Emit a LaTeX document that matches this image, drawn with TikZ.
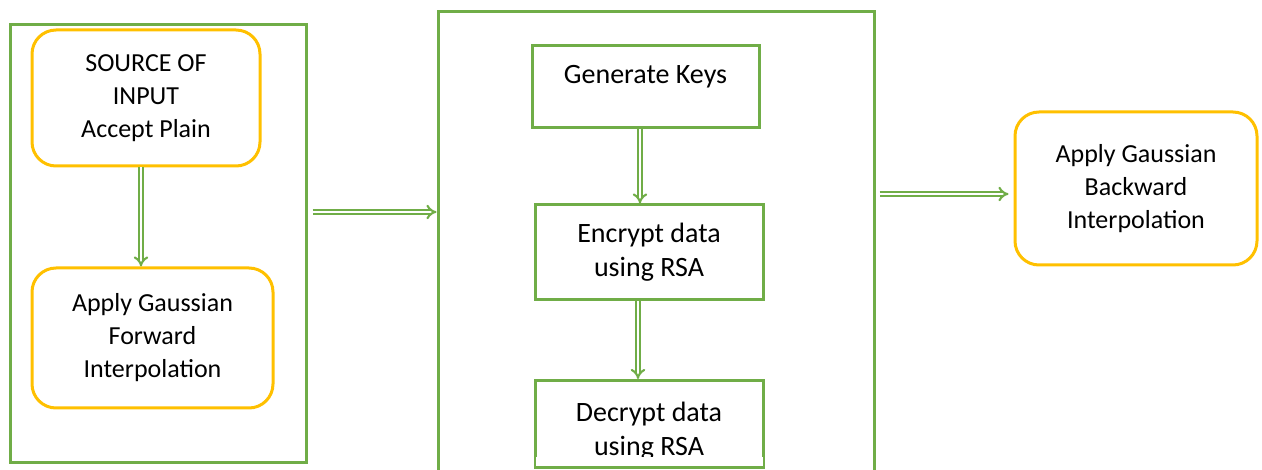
\documentclass[tikz,border=0pt]{standalone}
\usepackage{fontspec}
\setmainfont{Carlito}
\usetikzlibrary{arrows.meta}
\definecolor{boxgreen}{HTML}{70AD47}
\definecolor{boxorange}{HTML}{FFC000}

\begin{document}
\begin{tikzpicture}[x=1pt, y=-1pt, every node/.style={font=\fontsize{26}{33}\selectfont}]
    \tikzstyle{gbox}=[draw=boxgreen, line width=3pt, inner sep=0pt, align=center, font=\fontsize{28}{34}\selectfont]
    \tikzstyle{obox}=[draw=boxorange, line width=3pt, rounded corners=24pt, inner sep=0pt, align=center]
    \tikzstyle{darrs}=[draw=boxgreen, double, double distance=2.6pt, line width=2.1pt, -{Implies[scale=1.1]}]

    \useasboundingbox (0,0) rectangle (1262,470);
    \clip (0,0) rectangle (1262,470);

    % plain text in, forward interpolation
    \begin{scope}
        \node[gbox, minimum width=296pt, minimum height=437pt] (inbox) at (158,243.5) {};
        \node[obox, minimum width=228pt, minimum height=136pt] (source) at (146,98) {SOURCE OF\\INPUT\\Accept Plain};
        \node[obox, minimum width=241pt, minimum height=140pt] (forward) at (152.5,338) {Apply Gaussian\\Forward\\Interpolation};

        \draw[darrs] ([xshift=-5pt]source.south) -- ([xshift=-5pt]source.south |- forward.north);
    \end{scope}

    % RSA stage
    \begin{scope}
        \node[gbox, minimum width=436pt, minimum height=490pt] (rsabox) at (656,257) {};
        \node[gbox, minimum width=227pt, text height=38pt, text depth=44pt] (keys) at (645.5,87) {Generate Keys};
        \node[gbox, minimum width=228pt, minimum height=95pt] (encrypt) at (649,252.5) {Encrypt data\\using RSA};
        \node[gbox, minimum width=228pt, text height=75pt, text depth=12pt] (decrypt) at (649,424) {Decrypt data\\using RSA};
        \fill[white] ([xshift=2pt]decrypt.west |- 0,457) rectangle ([xshift=-2pt]decrypt.east |- 0,465.5);

        \draw[darrs] ([xshift=-5.5pt]keys.south) -- ([xshift=-5.5pt]keys.south |- encrypt.north);
        \draw[darrs] ([xshift=-11pt]encrypt.south) -- ([xshift=-11pt]encrypt.south |- decrypt.north);
    \end{scope}

    % backward interpolation
    \node[obox, minimum width=242pt, minimum height=153pt] (backward) at (1136,188.5) {Apply Gaussian\\Backward\\Interpolation};

    \draw[darrs, shorten <=5pt] (inbox.east |- 0,212) -- (rsabox.west |- 0,212);
    \draw[darrs, shorten <=4pt, shorten >=5pt] (rsabox.east |- 0,194) -- (backward.west |- 0,194);

\end{tikzpicture}
\end{document}
